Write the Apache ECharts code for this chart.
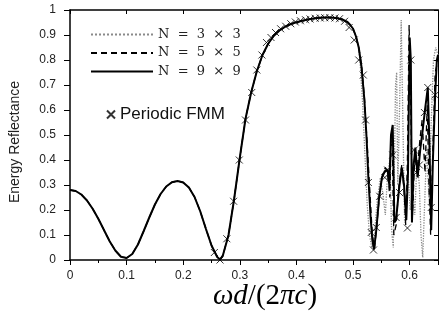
<!DOCTYPE html>
<html><head><meta charset="utf-8">
<script src="https://cdn.jsdelivr.net/npm/echarts@6/dist/echarts.min.js"></script>
<style>html,body{margin:0;padding:0;background:#fff}#c{width:439px;height:322px}</style>
</head><body><div id="c"></div>
<script>
// Shared smooth part (all N coincide)
const baseX = [0,0.01,0.02,0.03,0.04,0.05,0.06,0.07,0.08,0.09,0.10,0.11,0.12,0.13,0.14,0.15,0.16,0.17,0.18,0.19,0.20,0.21,0.22,0.23,0.24,0.25,0.26,0.265,0.27,0.28,0.29,0.30,0.31,0.32,0.33,0.34,0.35,0.36,0.37,0.38,0.39,0.40,0.41,0.42,0.43,0.44,0.45,0.46,0.47,0.48,0.49,0.495,0.50,0.505,0.51];
const baseY = [0.28,0.276,0.262,0.238,0.205,0.165,0.12,0.075,0.038,0.013,0.008,0.024,0.062,0.115,0.17,0.222,0.264,0.294,0.311,0.316,0.31,0.29,0.252,0.195,0.125,0.058,0.012,0.002,0.018,0.10,0.245,0.41,0.565,0.67,0.755,0.82,0.865,0.897,0.918,0.933,0.944,0.951,0.957,0.962,0.966,0.969,0.97,0.97,0.968,0.963,0.952,0.94,0.925,0.895,0.85];
// N = 3x3 tail
const n3TailX = [0.513,0.517,0.521,0.525,0.529,0.533,0.537,0.542,0.548,0.553,0.557,0.561,0.565,0.568,0.571,0.575,0.577,0.579,0.582,0.585,0.588,0.591,0.594,0.597,0.601,0.605,0.609,0.613,0.617,0.620,0.623,0.626,0.630,0.634,0.638,0.642,0.646,0.65];
const n3TailY = [0.77,0.62,0.42,0.22,0.10,0.05,0.08,0.22,0.33,0.26,0.18,0.35,0.40,0.12,0.05,0.70,0.75,0.30,0.60,0.96,0.55,0.15,0.25,0.35,0.20,0.30,0.18,0.40,0.30,0.10,0.01,0.20,0.45,0.25,0.55,0.80,0.85,0.82];
// N = 5x5 tail
const n5TailX = [0.515,0.52,0.525,0.53,0.534,0.538,0.542,0.547,0.552,0.557,0.561,0.565,0.567,0.569,0.572,0.576,0.581,0.586,0.590,0.593,0.596,0.599,0.602,0.605,0.609,0.613,0.618,0.622,0.627,0.631,0.634,0.637,0.641,0.645,0.65];
const n5TailY = [0.78,0.65,0.46,0.26,0.10,0.05,0.14,0.27,0.34,0.37,0.35,0.25,0.50,0.46,0.10,0.14,0.30,0.38,0.28,0.14,0.40,0.94,0.60,0.18,0.42,0.35,0.48,0.56,0.35,0.62,0.30,0.10,0.45,0.75,0.80];
// N = 9x9 tail
const n9TailX = [0.515,0.52,0.524,0.527,0.531,0.534,0.537,0.541,0.546,0.551,0.556,0.561,0.564,0.567,0.570,0.573,0.576,0.581,0.586,0.590,0.594,0.597,0.600,0.602,0.604,0.607,0.610,0.614,0.619,0.623,0.627,0.632,0.635,0.638,0.641,0.645,0.648,0.65];
const n9TailY = [0.77,0.64,0.48,0.33,0.17,0.08,0.042,0.12,0.25,0.33,0.355,0.36,0.30,0.50,0.54,0.15,0.16,0.28,0.37,0.30,0.16,0.35,0.89,0.80,0.15,0.38,0.45,0.33,0.45,0.52,0.60,0.69,0.45,0.12,0.40,0.66,0.80,0.82];
// Periodic FMM markers
const fmmX = [0.255,0.265,0.277,0.289,0.299,0.310,0.321,0.330,0.339,0.347,0.355,0.363,0.372,0.381,0.390,0.398,0.407,0.416,0.424,0.433,0.442,0.450,0.459,0.468,0.476,0.485,0.493,0.502,0.510,0.518,0.522,0.527,0.532,0.536,0.541,0.547,0.556,0.561,0.570,0.576,0.582,0.596,0.602,0.608,0.612,0.617,0.626,0.632,0.638,0.645];
const fmmY = [0.03,0.0,0.085,0.235,0.40,0.56,0.67,0.76,0.82,0.87,0.89,0.91,0.925,0.935,0.945,0.952,0.957,0.961,0.964,0.967,0.968,0.969,0.969,0.968,0.965,0.955,0.93,0.88,0.80,0.74,0.56,0.31,0.11,0.04,0.13,0.255,0.33,0.36,0.42,0.17,0.27,0.128,0.80,0.44,0.35,0.38,0.59,0.69,0.21,0.66];
const xTicks = [0,0.1,0.2,0.3,0.4,0.5,0.6];
const yTicks = [0,0.1,0.2,0.3,0.4,0.5,0.6,0.7,0.8,0.9,1];
const seriesNames = ['N = 3 × 3','N = 5 × 5','N = 9 × 9','Periodic FMM'];

function zip(xa, ya){ return xa.map((x,i)=>[x, ya[i]]); }
const base = zip(baseX, baseY);

const chart = echarts.init(document.getElementById('c'), null, {renderer:'canvas'});
const axisLineStyle = {color:'#000', width:1.5};
const fmt = v => { const r = Math.round(v*10)/10; return (r===0?'0':r===1?'1':String(r)); };
chart.setOption({
  animation:false,
  backgroundColor:'#fff',
  grid:{left:70, top:10, right:1, bottom:62, containLabel:false},
  xAxis:[{
    type:'value', min:0, max:0.65, interval:0.1, position:'bottom',
    axisLine:{show:true, onZero:false, lineStyle:axisLineStyle},
    axisTick:{show:true, length:5, inside:false, lineStyle:{color:'#000'}},
    minorTick:{show:true, splitNumber:2, length:3, lineStyle:{color:'#000'}},
    splitLine:{show:false},
    axisLabel:{margin:10, fontSize:12, color:'#222', fontFamily:'Liberation Sans, Arial', showMaxLabel:false,
      formatter: v => xTicks.some(t=>Math.abs(t-v)<1e-6) ? fmt(v) : ''}
  },{
    type:'value', min:0, max:0.65, interval:0.1, position:'top',
    axisLine:{show:true, onZero:false, lineStyle:axisLineStyle},
    axisTick:{show:true, length:4, inside:true, lineStyle:{color:'#000'}},
    axisLabel:{show:false}, splitLine:{show:false}
  }],
  yAxis:[{
    type:'value', min:0, max:1, interval:0.1, position:'left',
    name:'Energy Reflectance', nameLocation:'middle', nameGap:48,
    nameTextStyle:{fontSize:14, color:'#222', fontFamily:'Liberation Sans, Arial', padding:[0,14,0,0]},
    axisLine:{show:true, onZero:false, lineStyle:axisLineStyle},
    axisTick:{show:true, length:6, inside:false, lineStyle:{color:'#000'}},
    splitLine:{show:false},
    axisLabel:{margin:14, fontSize:12, color:'#222', fontFamily:'Liberation Sans, Arial',
      formatter: v => yTicks.some(t=>Math.abs(t-v)<1e-6) ? fmt(v) : ''}
  },{
    type:'value', min:0, max:1, interval:0.1, position:'right',
    axisLine:{show:true, onZero:false, lineStyle:{color:'#000', width:1}},
    axisTick:{show:true, length:4, inside:true, lineStyle:{color:'#000'}},
    axisLabel:{show:false}, splitLine:{show:false}
  }],
  legend:[{
    data:seriesNames.slice(0,3), orient:'vertical', left:85, top:23, itemWidth:62, itemHeight:14, itemGap:5.5,
    itemStyle:{color:'rgba(0,0,0,0)', borderWidth:0, opacity:0},
    textStyle:{fontFamily:'DejaVu Serif', fontSize:13, color:'#222'},
    formatter: n => n.replace(/ /g,'  ')
  },{
    data:[seriesNames[3]], left:101, top:101, itemWidth:8, itemHeight:8,
    textStyle:{fontFamily:'Liberation Sans, Arial', fontSize:17, color:'#111'}
  }],
  series:[
    {name:seriesNames[0], type:'line', symbol:'none', data: base.concat(zip(n3TailX,n3TailY)),
      lineStyle:{color:'#8a8a8a', width:1.3, type:'dotted'}, itemStyle:{color:'#8a8a8a'}, z:2},
    {name:seriesNames[1], type:'line', symbol:'none', data: base.concat(zip(n5TailX,n5TailY)),
      lineStyle:{color:'#000', width:1.3, type:[6,4]}, itemStyle:{color:'#000'}, z:3},
    {name:seriesNames[2], type:'line', symbol:'none', data: base.concat(zip(n9TailX,n9TailY)),
      lineStyle:{color:'#000', width:2}, itemStyle:{color:'#000'}, z:4},
    {name:seriesNames[3], type:'scatter', data: zip(fmmX,fmmY),
      symbol:'path://M0,0L10,10M10,0L0,10', symbolSize:7,
      itemStyle:{color:'rgba(0,0,0,0)', borderColor:'#000', borderWidth:1}, z:5}
  ],
  graphic:[{
    type:'text', x:265, y:282,
    style:{
      text:'{i|ωd}{n|/(2}{i|π}{i|c}{n|)}',
      align:'center', verticalAlign:'top',
      rich:{
        i:{fontFamily:'Liberation Serif', fontStyle:'italic', fontSize:29, fill:'#000'},
        n:{fontFamily:'Liberation Serif', fontSize:29, fill:'#000'}
      }
    }
  }]
});
</script></body></html>
